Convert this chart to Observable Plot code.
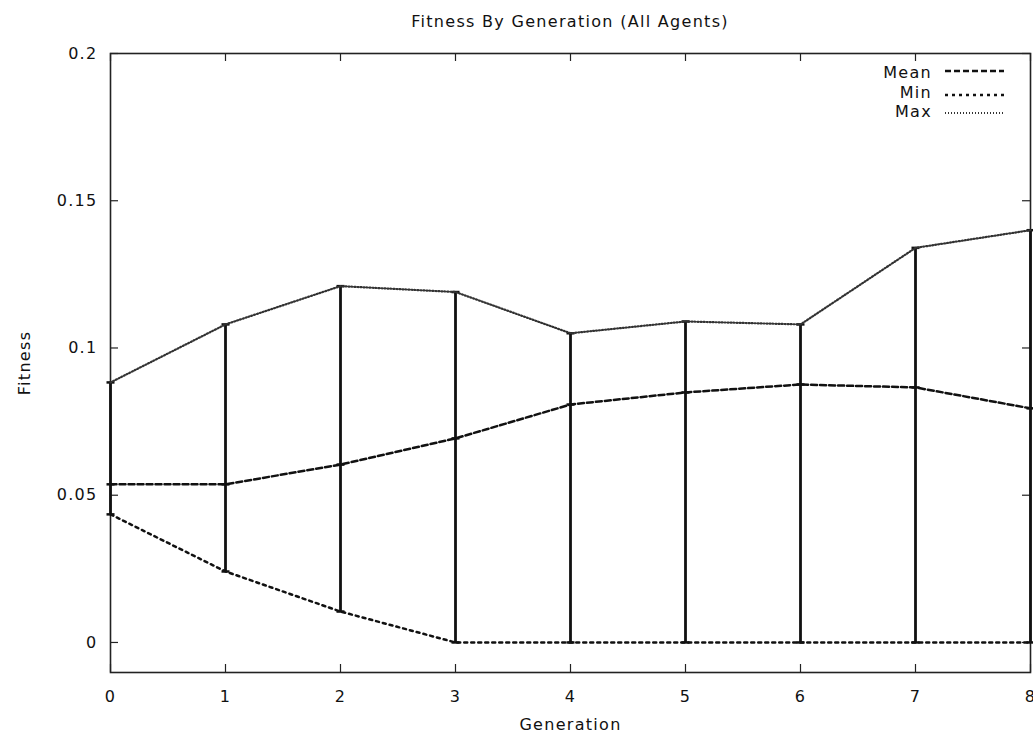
<!DOCTYPE html>
<html>
<head>
<meta charset="utf-8">
<script src="https://cdn.jsdelivr.net/npm/d3@7"></script>
<script src="https://cdn.jsdelivr.net/npm/@observablehq/plot@0.6"></script>
<style>
  body { margin: 0; background: #fff; font-family: "DejaVu Sans", sans-serif; }
  #wrap { position: relative; width: 1033px; height: 737px; }
  #title { height: 40px; box-sizing: border-box; padding-left: 110px; width: 1030px; text-align: center;
           font-size: 16px; letter-spacing: 1.3px; line-height: 18px; padding-top: 13px; color: #111; }
  .leg { position: absolute; font-size: 16px; letter-spacing: 1.3px; color: #111; }
  .legtxt { position: absolute; width: 80px; text-align: right; line-height: 18px; }
  svg { display: block; }
  #chart svg text { font-size: 16px; letter-spacing: 1.3px; font-family: "DejaVu Sans", sans-serif; fill: #111; }
</style>
</head>
<body>
<div id="wrap">
  <div id="title">Fitness By Generation (All Agents)</div>
  <div id="chart"></div>
  <div id="legend"></div>
</div>
<script>
const generations = [0, 1, 2, 3, 4, 5, 6, 7, 8];
const meanFitness = [0.0537, 0.0537, 0.0604, 0.0693, 0.0808, 0.0849, 0.0876, 0.0866, 0.0795];
const minFitness  = [0.0435, 0.0241, 0.0105, 0, 0, 0, 0, 0, 0];
const maxFitness  = [0.0883, 0.108, 0.121, 0.119, 0.105, 0.109, 0.108, 0.134, 0.140];
const yTicks = [0, 0.05, 0.1, 0.15, 0.2];
const yTickLabels = ["0", "0.05", "0.1", "0.15", "0.2"];
const xTicks = [0, 1, 2, 3, 4, 5, 6, 7, 8];

const seriesNames = ["Mean", "Min", "Max"];
const seriesDash = {Mean: "6,3", Min: "3,4", Max: "1,2"};
const seriesColor = {Mean: "#111", Min: "#111", Max: "#333"};
const seriesWidth = {Mean: 2.5, Min: 2.5, Max: 2.2};

const data = generations.map((g, i) => ({g, mean: meanFitness[i], min: minFitness[i], max: maxFitness[i]}));

const W = 1033, H = 697;
const mL = 110, mR = 3, mT = 13, mB = 65;
const innerW = W - mL - mR, innerH = H - mT - mB;
const tickLen = 8;

const capSymbol = {
  draw(context, size) {
    const r = 4;
    context.moveTo(-r, 0);
    context.lineTo(r, 0);
  }
};

const plot = Plot.plot({
  width: W,
  height: H,
  marginLeft: mL, marginRight: mR, marginTop: mT, marginBottom: mB,
  style: {fontFamily: "DejaVu Sans, sans-serif", fontSize: "16px", color: "#111", background: "#fff"},
  x: {domain: [0, 8]},
  y: {domain: [-0.0102, 0.2]},
  marks: [
    Plot.frame({stroke: "#222", strokeWidth: 1.6}),
    // inward ticks
    Plot.tickY(yTicks, {y: d => d, insetRight: innerW - tickLen, stroke: "#222", strokeWidth: 1.2}),
    Plot.tickY(yTicks, {y: d => d, insetLeft: innerW - tickLen, stroke: "#222", strokeWidth: 1.2}),
    Plot.tickX(xTicks, {x: d => d, insetTop: innerH - tickLen, stroke: "#222", strokeWidth: 1.2}),
    Plot.tickX(xTicks, {x: d => d, insetBottom: innerH - tickLen, stroke: "#222", strokeWidth: 1.2}),
    Plot.axisY({ticks: yTicks, tickFormat: (d, i) => yTickLabels[i], tickSize: 0, tickPadding: 13,
      label: "Fitness", labelAnchor: "center", labelArrow: "none", labelOffset: 92}),
    Plot.axisX({ticks: xTicks, tickFormat: d => String(d), tickSize: 0, tickPadding: 18,
      label: "Generation", labelAnchor: "center", labelArrow: "none", labelOffset: 57}),
    // error bars
    Plot.ruleX(data, {x: "g", y1: "min", y2: "max", stroke: "#111", strokeWidth: 2.8}),
    Plot.dot(data, {x: "g", y: "min", symbol: capSymbol, stroke: "#111", strokeWidth: 2.5}),
    Plot.dot(data, {x: "g", y: "max", symbol: capSymbol, stroke: "#111", strokeWidth: 2.5}),
    Plot.dot(data, {x: "g", y: "mean", symbol: capSymbol, stroke: "#111", strokeWidth: 2.5}),
    // series lines
    Plot.line(data, {x: "g", y: "mean", stroke: seriesColor.Mean, strokeWidth: seriesWidth.Mean, strokeDasharray: seriesDash.Mean}),
    Plot.line(data, {x: "g", y: "min", stroke: seriesColor.Min, strokeWidth: seriesWidth.Min, strokeDasharray: seriesDash.Min}),
    Plot.line(data, {x: "g", y: "max", stroke: seriesColor.Max, strokeWidth: seriesWidth.Max, strokeDasharray: seriesDash.Max})
  ]
});
document.getElementById("chart").appendChild(plot);

// legend (gnuplot-style key, top right inside the frame)
const leg = document.getElementById("legend");
const legTop = [64, 84, 103];
seriesNames.forEach((name, i) => {
  const row = document.createElement("div");
  row.className = "leg";
  row.style.left = "852px";
  row.style.top = legTop[i] + "px";
  row.style.width = "160px";
  row.style.height = "18px";
  row.innerHTML = `<span class="legtxt" style="left:0">${name}</span>
    <svg width="60" height="18" style="position:absolute;left:93px;top:0">
      <line x1="0" x2="59" y1="${i === 0 ? 7 : (i === 1 ? 11 : 10)}" y2="${i === 0 ? 7 : (i === 1 ? 11 : 10)}" stroke="${seriesColor[name]}" stroke-width="${seriesWidth[name]}" stroke-dasharray="${seriesDash[name]}"/>
    </svg>`;
  leg.appendChild(row);
});
</script>
</body>
</html>
